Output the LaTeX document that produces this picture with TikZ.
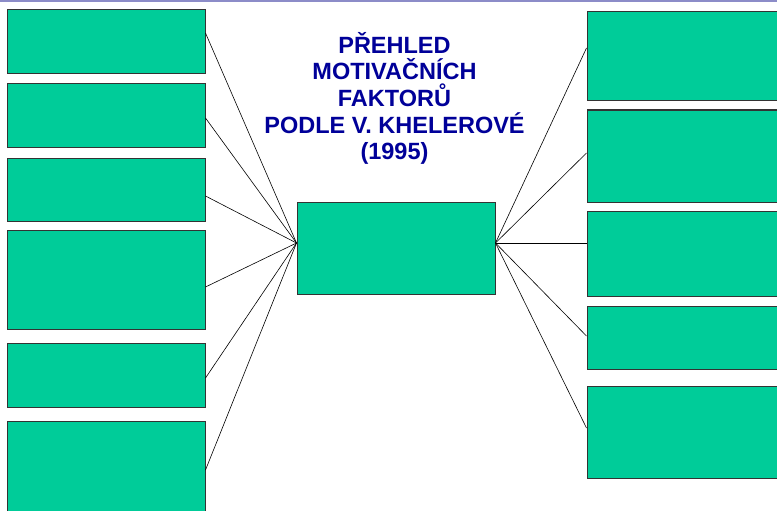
\documentclass[tikz,border=0pt]{standalone}
\usepackage{fontspec}
\setmainfont{Liberation Sans}
\definecolor{boxgreen}{HTML}{00CC99}
\definecolor{boxedge}{HTML}{333333}
\definecolor{titleblue}{HTML}{000099}
\definecolor{topline}{HTML}{8C8CC8}
\begin{document}
\begin{tikzpicture}[x=1pt,y=-1pt,
  greenbox/.style={draw=boxedge,line width=1pt,fill=boxgreen,rectangle,inner sep=0pt,minimum width=198pt},
  conn/.style={draw=black,line width=0.6pt},
  titletext/.style={font=\fontsize{23.5}{26}\selectfont\bfseries,text=titleblue,anchor=base,inner sep=0pt}]
\useasboundingbox (0,0) rectangle (777,511);
\fill[white] (0,0) rectangle (777,511);
\fill[topline] (0,0) rectangle (777,2);
% left boxes
\node[greenbox,minimum height=64pt] (l1) at (106,42) {};
\node[greenbox,minimum height=63pt] (l2) at (106,115.5) {};
\node[greenbox,minimum height=63pt] (l3) at (106,189.5) {};
\node[greenbox,minimum height=99pt] (l4) at (106,279.5) {};
\node[greenbox,minimum height=64pt] (l5) at (106,375) {};
\node[greenbox,minimum height=99pt] (l6) at (106,470.5) {};
% center box
\node[greenbox,minimum height=92pt] (c) at (396,248) {};
% right boxes
\node[greenbox,minimum height=89pt] (r1) at (686,56.5) {};
\node[greenbox,minimum height=92pt] (r2) at (686,156) {};
\node[greenbox,minimum height=85pt] (r3) at (686,253.5) {};
\node[greenbox,minimum height=63pt] (r4) at (686,337.5) {};
\node[greenbox,minimum height=92pt] (r5) at (686,432) {};
% connectors
\draw[conn] ([yshift=9pt]l1.east) -- ([yshift=5pt]c.west);
\draw[conn] ([yshift=-2.5pt]l2.east) -- ([yshift=5pt]c.west);
\draw[conn] ([yshift=-6.5pt]l3.east) -- ([yshift=5pt]c.west);
\draw[conn] ([yshift=-7.5pt]l4.east) -- ([yshift=5pt]c.west);
\draw[conn] ([yshift=-3pt]l5.east) -- ([yshift=5pt]c.west);
\draw[conn] ([yshift=0.5pt]l6.east) -- ([yshift=5pt]c.west);
\draw[conn] ([yshift=5pt]c.east) -- ([yshift=8.5pt]r1.west);
\draw[conn] ([yshift=5pt]c.east) -- ([yshift=3pt]r2.west);
\draw[conn] ([yshift=5pt]c.east) -- ([yshift=10.5pt]r3.west);
\draw[conn] ([yshift=5pt]c.east) -- ([yshift=1.5pt]r4.west);
\draw[conn] ([yshift=5pt]c.east) -- ([yshift=4pt]r5.west);
% title
\node[titletext] (t1) at (394.5,53.5) {PŘEHLED};
\node[titletext] (t2) at (394.5,80) {MOTIVAČNÍCH};
\node[titletext] (t3) at (394.5,106.3) {FAKTORŮ};
\node[titletext] (t4) at (394.5,133) {PODLE V. KHELEROVÉ};
\node[titletext] (t5) at (394.5,159.5) {(1995)};
\end{tikzpicture}
\end{document}
